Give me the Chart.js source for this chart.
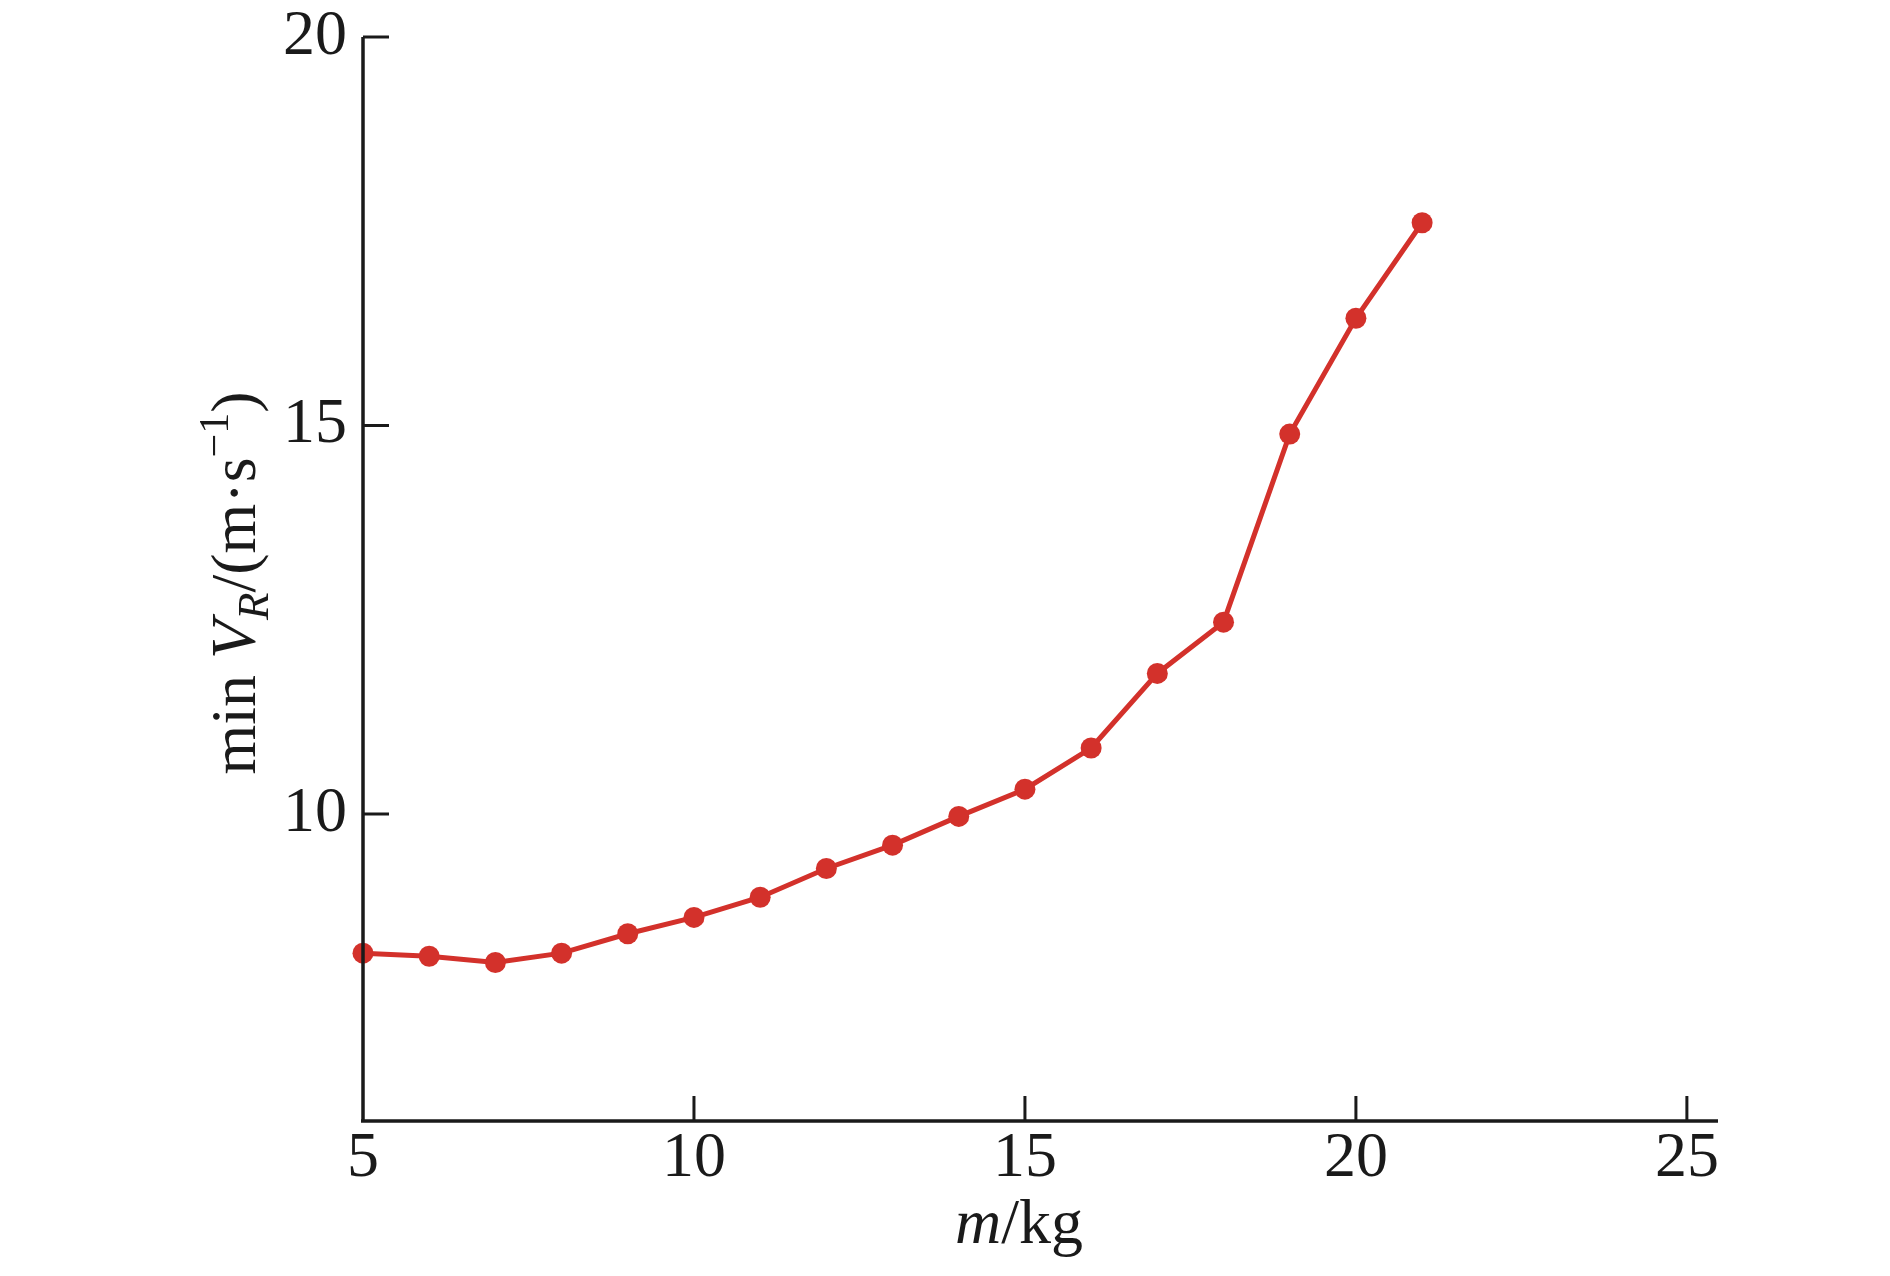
<!DOCTYPE html>
<html>
<head>
<meta charset="utf-8">
<script src="https://cdn.jsdelivr.net/npm/chart.js@4.4.1/dist/chart.umd.min.js"></script>
<style>
  html, body { margin: 0; padding: 0; background: #fff; }
  canvas { display: block; }
</style>
</head>
<body>
<canvas id="myChart" width="1890" height="1276"></canvas>
<script>
const massKg = [5, 6, 7, 8, 9, 10, 11, 12, 13, 14, 15, 16, 17, 18, 19, 20, 21];
const minVR = [8.21, 8.17, 8.09, 8.21, 8.46, 8.67, 8.93, 9.30, 9.60, 9.97, 10.32, 10.85, 11.81, 12.47, 14.89, 16.38, 17.61];
const xTicks = [5, 10, 15, 20, 25];
const yTicks = [10, 15, 20];

const ink = '#1a1a1a';
const red = '#d3312b';
const serif = '"Liberation Serif", "Times New Roman", serif';
const fontSize = 64;

const ctx = document.querySelector('#myChart').getContext('2d');

// draws a row of text pieces (italic, sub/superscript) centred on x
function drawRuns(c, runs, x, y) {
  const fontFor = r => `${r.italic ? 'italic ' : ''}${Math.round(fontSize * (r.size || 1))}px ${serif}`;
  let total = 0;
  runs.forEach(r => { c.font = fontFor(r); r.w = c.measureText(r.t).width; total += r.w; });
  let cx = x - total / 2;
  runs.forEach(r => {
    c.font = fontFor(r);
    c.fillText(r.t, cx, y + (r.dy || 0) * fontSize);
    cx += r.w;
  });
}

const axisDecor = {
  id: 'axisDecor',
  afterDraw(chart) {
    const c = chart.ctx;
    const area = chart.chartArea;
    const { x, y } = chart.scales;
    c.save();
    c.strokeStyle = ink;
    c.fillStyle = ink;
    c.lineCap = 'butt';

    // axis lines
    c.lineWidth = 3.5;
    c.beginPath();
    c.moveTo(area.left, area.top);
    c.lineTo(area.left, area.bottom);
    c.moveTo(area.left - 2, area.bottom);
    c.lineTo(area.right, area.bottom);
    c.stroke();

    // inward tick marks
    c.lineWidth = 3;
    c.beginPath();
    xTicks.forEach(v => {
      if (v === x.min) return;
      const px = x.getPixelForValue(v);
      c.moveTo(px, area.bottom);
      c.lineTo(px, area.bottom - 25);
    });
    yTicks.forEach(v => {
      const py = y.getPixelForValue(v);
      c.moveTo(area.left, py);
      c.lineTo(area.left + 26, py);
    });
    c.stroke();

    // axis titles
    c.textBaseline = 'alphabetic';
    c.textAlign = 'left';
    drawRuns(c, [
      { t: 'm', italic: true },
      { t: '/kg' }
    ], x.getPixelForValue(15) - 6, area.bottom + 122);

    c.translate(area.left - 108, (area.top + area.bottom) / 2 + 4);
    c.rotate(-Math.PI / 2);
    drawRuns(c, [
      { t: 'min ' },
      { t: 'V', italic: true },
      { t: 'R', italic: true, size: 0.7, dy: 0.2 },
      { t: '/(m·s' },
      { t: '\u22121', size: 0.65, dy: -0.42 },
      { t: ')' }
    ], 0, 0);
    c.restore();
  }
};

const chartData = {
  datasets: [{
    data: massKg.map((m, i) => ({ x: m, y: minVR[i] })),
    borderColor: red,
    backgroundColor: red,
    borderWidth: 5,
    pointRadius: 10.5,
    pointBorderWidth: 0,
    pointBackgroundColor: red,
    tension: 0,
    clip: false
  }]
};

const config = {
  type: 'line',
  data: chartData,
  options: {
    responsive: false,
    animation: false,
    layout: {
      padding: { left: 0, right: 172, top: 37, bottom: 0 }
    },
    scales: {
      x: {
        type: 'linear',
        min: 5,
        max: 25.47,
        afterFit: s => { s.height = 155; s.paddingLeft = 0; s.paddingRight = 0; },
        afterBuildTicks: s => { s.ticks = xTicks.map(v => ({ value: v })); },
        grid: { display: false, drawTicks: false },
        border: { display: false },
        ticks: {
          padding: 0,
          autoSkip: false,
          maxRotation: 0,
          color: ink,
          font: { family: serif, size: fontSize }
        }
      },
      y: {
        type: 'linear',
        min: 6.05,
        max: 20,
        afterFit: s => { s.width = 363; s.paddingTop = 0; s.paddingBottom = 0; },
        afterBuildTicks: s => { s.ticks = yTicks.map(v => ({ value: v })); },
        grid: { display: false, drawTicks: false },
        border: { display: false },
        ticks: {
          padding: 16,
          color: ink,
          font: { family: serif, size: fontSize }
        }
      }
    },
    plugins: {
      legend: { display: false },
      tooltip: { enabled: false }
    }
  },
  plugins: [axisDecor]
};

new Chart(ctx, config);
</script>
</body>
</html>
